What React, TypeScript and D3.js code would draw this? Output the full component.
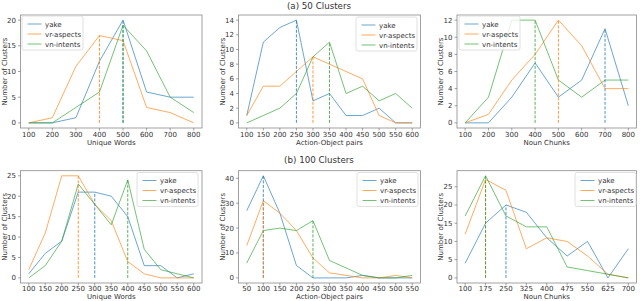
import React from 'react';
import * as d3 from 'd3';

const seriesNames = ['yake', 'vr-aspects', 'vn-intents'];
const seriesColors = ['#1f77b4', '#ff7f0e', '#2ca02c'];

// (a) 50 clusters
const a1X = [100, 200, 300, 400, 500, 600, 700, 800];
const a1Yake = [0, 0, 1, 12, 20, 6, 5, 5];
const a1Vr = [0, 1, 11, 17, 16, 3, 2, 0];
const a1Vn = [0, 0, 3, 6, 19, 14, 5, 2];
const a1YTicks = [0, 5, 10, 15, 20];

const a2X = [100, 150, 200, 250, 300, 350, 400, 450, 500, 550, 600];
const a2Yake = [1, 11, 13, 14, 3, 4, 1, 1, 2, 0, 0];
const a2Vr = [1, 5, 5, 7, 9, 8, 7, 6, 1, 0, 0];
const a2Vn = [0, 1, 2, 4, 9, 11, 4, 5, 3, 4, 2];
const a2YTicks = [0, 2, 4, 6, 8, 10, 12, 14];

const a3X = [100, 200, 300, 400, 500, 600, 700, 800];
const a3Yake = [0, 0, 3, 7, 3, 5, 11, 2];
const a3Vr = [0, 1, 5, 8, 12, 9, 4, 4];
const a3Vn = [0, 3, 12, 12, 5, 3, 5, 5];
const a3YTicks = [0, 2, 4, 6, 8, 10, 12];

// (b) 100 clusters
const b1X = [100, 150, 200, 250, 300, 350, 400, 450, 500, 550, 600];
const b1Yake = [1, 6, 9, 21, 21, 20, 15, 3, 3, 0, 1];
const b1Vr = [2, 11, 25, 25, 18, 14, 4, 1, 0, 0, 0];
const b1Vn = [0, 3, 9, 23, 18, 13, 24, 7, 2, 1, 0];
const b1YTicks = [0, 5, 10, 15, 20, 25];

const b2X = [50, 100, 150, 200, 250, 300, 350, 400, 450, 500, 550];
const b2Yake = [27, 41, 26, 5, 0, 0, 0, 1, 0, 0, 0];
const b2Vr = [13, 31, 26, 19, 8, 2, 1, 0, 0, 1, 0];
const b2Vn = [6, 19, 20, 19, 23, 7, 4, 1, 0, 0, 1];
const b2YTicks = [0, 10, 20, 30, 40];

const b3X = [100, 175, 250, 325, 400, 475, 550, 625, 700];
const b3Yake = [4, 15, 20, 18, 11, 6, 10, 0, 8];
const b3Vr = [12, 27, 24, 8, 11, 10, 6, 1, 0];
const b3Vn = [17, 28, 17, 14, 14, 3, 2, 1, 0];
const b3YTicks = [0, 5, 10, 15, 20, 25];

const titles = ['(a) 50 Clusters', '(b) 100 Clusters'];
const yLabel = 'Number of Clusters';

type Panel = {
  xs: number[];
  series: number[][];
  yTicks: number[];
  xLabel: string;
  col: number;
  row: number;
  legend: [number, number];
};

const panels: Panel[] = [
  { xs: a1X, series: [a1Yake, a1Vr, a1Vn], yTicks: a1YTicks, xLabel: 'Unique Words', col: 0, row: 0, legend: [22, 16] },
  { xs: a2X, series: [a2Yake, a2Vr, a2Vn], yTicks: a2YTicks, xLabel: 'Action-Object pairs', col: 1, row: 0, legend: [356, 17] },
  { xs: a3X, series: [a3Yake, a3Vr, a3Vn], yTicks: a3YTicks, xLabel: 'Noun Chunks', col: 2, row: 0, legend: [459, 16] },
  { xs: b1X, series: [b1Yake, b1Vr, b1Vn], yTicks: b1YTicks, xLabel: 'Unique Words', col: 0, row: 1, legend: [137, 172.5] },
  { xs: b2X, series: [b2Yake, b2Vr, b2Vn], yTicks: b2YTicks, xLabel: 'Action-Object pairs', col: 1, row: 1, legend: [357, 172.5] },
  { xs: b3X, series: [b3Yake, b3Vr, b3Vn], yTicks: b3YTicks, xLabel: 'Noun Chunks', col: 2, row: 1, legend: [575, 172.5] },
];

const cols = [
  { x0: 20.5, x1: 202 },
  { x0: 238.5, x1: 420.5 },
  { x0: 457, x1: 636.5 },
];
const rows = [
  { y0: 15, y1: 128, tickY: 137, labelY: 145 },
  { y0: 170.7, y1: 283, tickY: 290.5, labelY: 299 },
];

const FONT = 'DejaVu Sans, sans-serif';
const FS = 7;

function padDomain(lo: number, hi: number): [number, number] {
  const r = hi - lo;
  return [lo - 0.05 * r, hi + 0.05 * r];
}

function lastArgMax(v: number[]): number {
  const m = d3.max(v) as number;
  let idx = 0;
  v.forEach((d, i) => {
    if (d === m) idx = i;
  });
  return idx;
}

function PanelView({ p }: { p: Panel }) {
  const c = cols[p.col];
  const r = rows[p.row];
  const [xmin, xmax] = d3.extent(p.xs) as [number, number];
  const allY = p.series.flat();
  const ymax = d3.max(allY) as number;
  const ymin = d3.min(allY) as number;
  const x = d3.scaleLinear().domain(padDomain(xmin, xmax)).range([c.x0, c.x1]);
  const y = d3.scaleLinear().domain(padDomain(ymin, ymax)).range([r.y1, r.y0]);
  const line = d3
    .line<number>()
    .x((_, i) => x(p.xs[i]))
    .y((d) => y(d));
  const yc = (r.y0 + r.y1) / 2;
  const [lx, ly] = p.legend;
  return (
    <g>
      {p.series.map((s, si) => (
        <path
          key={'l' + si}
          d={line(s) || ''}
          fill="none"
          stroke={seriesColors[si]}
          strokeOpacity={0.65}
          strokeWidth={1}
        />
      ))}
      {p.series.map((s, si) => {
        const i = lastArgMax(s);
        return (
          <line
            key={'d' + si}
            x1={x(p.xs[i])}
            x2={x(p.xs[i])}
            y1={y(0)}
            y2={y(s[i])}
            stroke={seriesColors[si]}
            strokeOpacity={0.8}
            strokeWidth={1}
            strokeDasharray="3,1.5"
          />
        );
      })}
      <rect x={c.x0} y={r.y0} width={c.x1 - c.x0} height={r.y1 - r.y0} fill="none" stroke="#8a8a8a" strokeWidth={0.8} />
      {p.xs.map((v) => (
        <g key={'xt' + v}>
          <line x1={x(v)} x2={x(v)} y1={r.y1} y2={r.y1 + 2.5} stroke="#666" strokeWidth={0.6} />
          <text x={x(v)} y={r.tickY} fontSize={FS} fontFamily={FONT} textAnchor="middle" fill="#333">
            {v}
          </text>
        </g>
      ))}
      {p.yTicks.map((v) => (
        <g key={'yt' + v}>
          <line x1={c.x0 - 2.5} x2={c.x0} y1={y(v)} y2={y(v)} stroke="#666" strokeWidth={0.6} />
          <text x={c.x0 - 4.5} y={y(v) + 2.5} fontSize={FS} fontFamily={FONT} textAnchor="end" fill="#333">
            {v}
          </text>
        </g>
      ))}
      <text x={(c.x0 + c.x1) / 2} y={r.labelY} fontSize={FS} fontFamily={FONT} textAnchor="middle" fill="#333">
        {p.xLabel}
      </text>
      <text
        transform={`translate(${c.x0 - 14},${yc}) rotate(-90)`}
        fontSize={FS}
        fontFamily={FONT}
        textAnchor="middle"
        fill="#333"
      >
        {yLabel}
      </text>
      <rect x={lx} y={ly} width={61} height={34} rx={2} fill="#fff" fillOpacity={0.8} stroke="#d8d8d8" strokeWidth={0.8} />
      {seriesNames.map((n, si) => (
        <g key={'lg' + si}>
          <line
            x1={lx + 5.5}
            x2={lx + 19.5}
            y1={ly + 8 + si * 10}
            y2={ly + 8 + si * 10}
            stroke={seriesColors[si]}
            strokeOpacity={0.65}
            strokeWidth={1}
          />
          <text x={lx + 23} y={ly + 10.5 + si * 10} fontSize={FS} fontFamily={FONT} fill="#333">
            {n}
          </text>
        </g>
      ))}
    </g>
  );
}

export default function App() {
  return (
    <svg
      width={640}
      height={301}
      viewBox="0 0 640 301"
      style={{ position: 'absolute', left: 0, top: 0, background: '#fff' }}
    >
      <rect x={0} y={0} width={640} height={301} fill="#fff" />
      <text x={319} y={8.5} fontSize={8.7} fontFamily={FONT} textAnchor="middle" fill="#333">
        {titles[0]}
      </text>
      <text x={319} y={163} fontSize={8.7} fontFamily={FONT} textAnchor="middle" fill="#333">
        {titles[1]}
      </text>
      {panels.map((p, i) => (
        <PanelView key={i} p={p} />
      ))}
    </svg>
  );
}
